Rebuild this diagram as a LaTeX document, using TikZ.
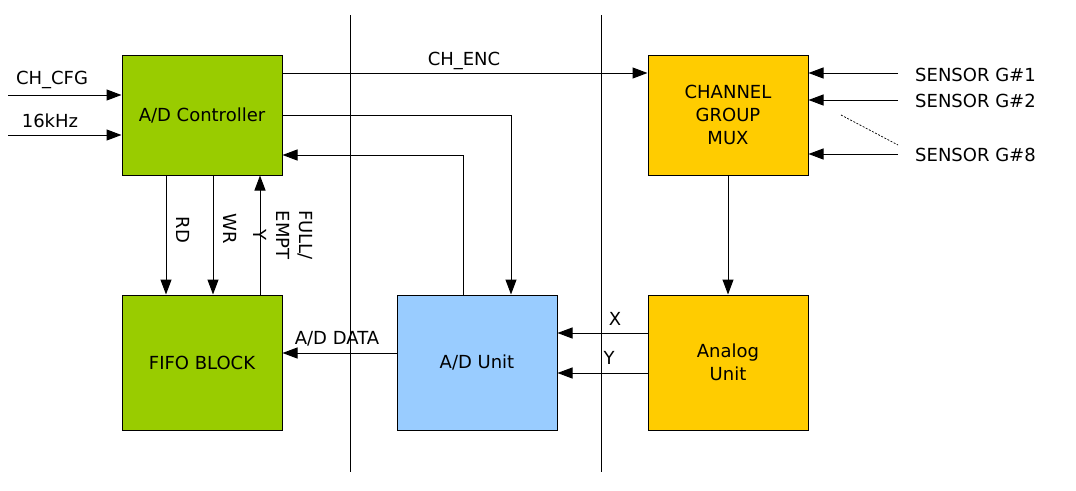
\documentclass[tikz,border=0pt]{standalone}
\usepackage{fontspec}
\setmainfont{DejaVu Sans}
\usetikzlibrary{arrows.meta,calc}
\definecolor{bgreen}{HTML}{99CC00}
\definecolor{bblue}{HTML}{99CCFF}
\definecolor{byellow}{HTML}{FFCC00}
\begin{document}
\begin{tikzpicture}[x=1pt,y=-1pt,
  font=\fontsize{18}{23}\selectfont,
  box/.style={draw=black, line width=1pt, minimum width=160pt, inner sep=0pt, align=center},
  arr/.style={line width=1pt, -{Triangle[length=15pt,width=11pt]}},
  ln/.style={line width=1pt},
  lbl/.style={inner sep=0pt}]
\useasboundingbox (0,0) rectangle (1076,490);
% divider lines
\coordinate (d1t) at (350,15); \coordinate (d1b) at (350,472);
\coordinate (d2t) at (601,15); \coordinate (d2b) at (601,472);
\draw[ln] (d1t) -- (d1b);
\draw[ln] (d2t) -- (d2b);
% boxes
\node[box, fill=bgreen, minimum height=120pt] (ctrl) at (202,115) {A/D Controller};
\node[box, fill=bgreen, minimum height=135pt] (fifo) at (202,362.5) {FIFO BLOCK};
\node[box, fill=bblue, minimum height=135pt] (adu) at (477,362.5) {A/D Unit};
\node[box, fill=byellow, minimum height=120pt] (mux) at (728,115) {CHANNEL\\GROUP\\MUX};
\node[box, fill=byellow, minimum height=135pt] (ana) at (728,362.5) {Analog\\Unit};
% inputs to controller
\coordinate (cfg) at (8,95);
\coordinate (khz) at (8,135);
\draw[arr] (cfg) -- (cfg -| ctrl.west);
\draw[arr] (khz) -- (khz -| ctrl.west);
\node[lbl] (lcfg) at (52,80) {CH\_CFG};
\node[lbl] (lkhz) at (50,121) {16kHz};
% CH_ENC
\coordinate (enc) at (282,73);
\draw[arr] (enc) -- (enc -| mux.west);
\node[lbl] (lenc) at (464,61) {CH\_ENC};
% controller -> A/D unit
\coordinate (c2a) at (282,115);
\coordinate (c2ac) at (511,115);
\draw[arr] (c2a) -- (c2ac) -- (c2ac |- adu.north);
% A/D unit -> controller
\coordinate (a2c) at (463,155);
\draw[arr] (a2c |- adu.north) -- (a2c) -- (a2c -| ctrl.east);
% RD, WR, FULL/EMPTY
\coordinate (rd) at (166,0);
\coordinate (wr) at (213,0);
\coordinate (fe) at (260,0);
\draw[arr] (rd |- ctrl.south) -- (rd |- fifo.north);
\draw[arr] (wr |- ctrl.south) -- (wr |- fifo.north);
\draw[arr] (fe |- fifo.north) -- (fe |- ctrl.south);
\node[lbl, rotate=-90] (lrd) at (183,230) {RD};
\node[lbl, rotate=-90] (lwr) at (230,229) {WR};
\node[lbl, rotate=-90, align=center] (lfe) at (283,235) {FULL/\\EMPT\\Y};
% A/D DATA
\coordinate (dat) at (397,353);
\draw[arr] (dat) -- (dat -| fifo.east);
\node[lbl] (ldat) at (337,339) {A/D DATA};
% X, Y
\coordinate (xa) at (648,333);
\coordinate (ya) at (648,373);
\draw[arr] (xa) -- (xa -| adu.east);
\draw[arr] (ya) -- (ya -| adu.east);
\node[lbl] (lx) at (615,319) {X};
\node[lbl] (ly) at (609,358) {Y};
% MUX -> analog
\draw[arr] (mux.south) -- (ana.north);
% sensors
\coordinate (s1) at (898,73);
\coordinate (s2) at (898,100);
\coordinate (s8) at (898,154);
\draw[arr] (s1) -- (s1 -| mux.east);
\draw[arr] (s2) -- (s2 -| mux.east);
\draw[arr] (s8) -- (s8 -| mux.east);
\node[lbl, anchor=west] (ls1) at (915,75) {SENSOR G\#1};
\node[lbl, anchor=west] (ls2) at (915,101) {SENSOR G\#2};
\node[lbl, anchor=west] (ls8) at (915,155) {SENSOR G\#8};
\coordinate (dsa) at (841,115);
\coordinate (dsb) at (898,145);
\draw[line width=0.7pt, dash pattern=on 2pt off 1.5pt] (dsa) -- (dsb);
\end{tikzpicture}
\end{document}
